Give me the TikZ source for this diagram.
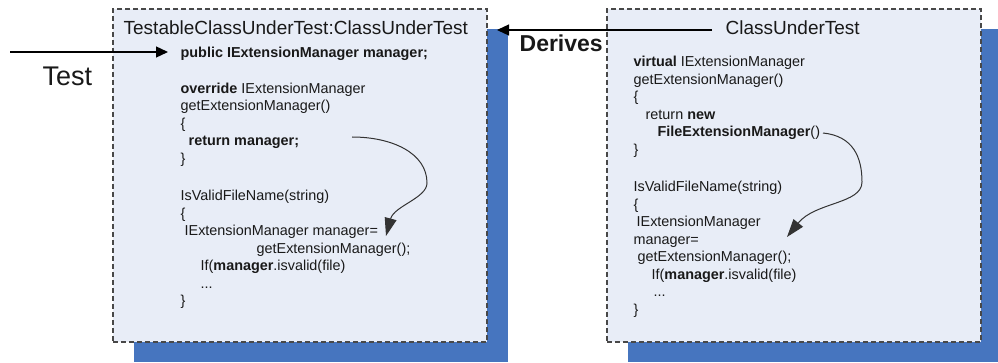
\documentclass[tikz,border=0pt]{standalone}
\usepackage{fontspec}
\setmainfont{Liberation Sans}
\usetikzlibrary{arrows.meta,shadows}
\definecolor{boxfill}{RGB}{232,237,247}
\definecolor{shadowblue}{RGB}{70,117,191}
\definecolor{dashgray}{RGB}{72,72,72}
\tikzset{%
  >={Triangle[width=11pt,length=12pt]},
  % Specifications for style of nodes:
  base/.style = {
    inner sep=0pt,
    text=black!90,
  },
  classbox/.style = {base, rectangle, draw=dashgray, line width=1.2pt,
    dash pattern=on 5pt off 3pt, fill=boxfill,
    minimum width=374pt, minimum height=333pt,
    drop shadow={shadow xshift=21pt, shadow yshift=-20pt,
      fill=shadowblue, opacity=1}},
  boxtitle/.style = {base, anchor=base west,
    font=\fontsize{19}{22}\selectfont},
  codetext/.style = {base, anchor=north west, align=left,
    font=\fontsize{14.4}{17.5}\selectfont},
  callarrow/.style = {-{Triangle[width=12pt,length=18pt]},
    line width=1pt, draw=black!80},
}

\begin{document}
\begin{tikzpicture}[x=1pt, y=1pt, line width=1.3pt]
  \useasboundingbox (0,0) rectangle (998,362);
  % boxes
  \node (lbox) [classbox] at (300,186.5) {};
  \node (rbox) [classbox] at (794,186.5) {};
  % titles
  \node (ltitle) [boxtitle] at (123,327) {TestableClassUnderTest:ClassUnderTest};
  \node (rtitle) [boxtitle] at (725,327) {ClassUnderTest};
  \node (derives) [base, anchor=base west,
    font=\fontsize{23}{26}\selectfont\bfseries] at (519,310) {Derives};
  \node (test) [base, anchor=base west,
    font=\fontsize{27}{30}\selectfont] at (42,276) {Test};
  % code
  \node (lcode) [codetext] at (180,315.5) {%
    \textbf{public IExtensionManager manager;}\\[18pt]
    \textbf{override} IExtensionManager\\
    getExtensionManager()\\
    \{\\
    \hspace*{8pt}\textbf{return manager;}\\
    \}\\[20pt]
    IsValidFileName(string)\\
    \{\\
    \hspace*{4pt}IExtensionManager manager=\\
    \hspace*{76pt}getExtensionManager();\\
    \hspace*{20pt}If(\textbf{manager}.isvalid(file)\\
    \hspace*{20pt}...\\
    \}};
  \node (rcode) [codetext] at (633,306.5) {%
    \textbf{virtual} IExtensionManager\\
    getExtensionManager()\\
    \{\\
    \hspace*{12pt}return \textbf{new}\\
    \hspace*{24pt}\textbf{FileExtensionManager}()\\
    \}\\[20pt]
    IsValidFileName(string)\\
    \{\\
    \hspace*{3pt}IExtensionManager\\
    manager=\\
    \hspace*{4pt}getExtensionManager();\\
    \hspace*{18pt}If(\textbf{manager}.isvalid(file)\\
    \hspace*{20pt}...\\
    \}};
  % lines
  \coordinate (testIn) at (10,310);
  \coordinate (testEnd) at (168,310);
  \coordinate (derStart) at (712,332);
  \coordinate (derEnd) at (497,332);
  \draw[->] (testIn) -- (testEnd);
  \draw[->] (derStart) -- (derEnd);
  % calls
  \coordinate (lStart) at (352,225);
  \coordinate (lBend) at (427,179);
  \coordinate (lEnd) at (386,126);
  \coordinate (rStart) at (823,229);
  \coordinate (rBend) at (862,180);
  \coordinate (rEnd) at (787,125);
  \draw[callarrow] (lStart) .. controls +(40,0) and +(0,30) .. (lBend)
    .. controls +(0,-15) and +(8,30) .. (lEnd);
  \draw[callarrow] (rStart) .. controls +(30,-3) and +(0,25) .. (rBend)
    .. controls +(0,-22) and +(28,35) .. (rEnd);
\end{tikzpicture}
\end{document}
